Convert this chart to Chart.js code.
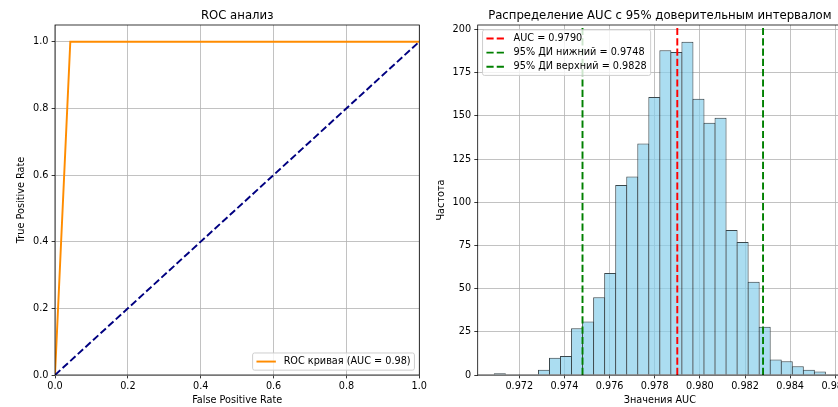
<!DOCTYPE html>
<html><head><meta charset="utf-8">
<script src="https://cdn.jsdelivr.net/npm/chart.js@4.4.1/dist/chart.umd.min.js"></script>
<style>
html,body{margin:0;padding:0;background:#fff;overflow:hidden;width:838px;height:407px;}
#wrap{position:relative;width:838px;height:407px;overflow:hidden;background:#fff;}
.box{position:absolute;top:0;height:407px;}
canvas{display:block;}
</style></head><body>
<div id="wrap">
  <div class="box" style="left:420px;width:430px"><canvas id="c2" width="430" height="407"></canvas></div>
  <div class="box" style="left:0;width:440px"><canvas id="c1" width="440" height="407"></canvas></div>
</div>
<script>
// ---------- DATA ----------
const rocFpr = [0.0, 0.042, 1.0];
const rocTpr = [0.0, 1.0, 1.0];
const diagX = [0.0, 1.0];
const diagY = [0.0, 1.0];
const rocLabel = 'ROC кривая (AUC = 0.98)';

const binEdges = [0.970892, 0.971381, 0.971870, 0.972359, 0.972848, 0.973337, 0.973826, 0.974315,
  0.974804, 0.975293, 0.975782, 0.976271, 0.976760, 0.977249, 0.977738, 0.978227, 0.978716,
  0.979205, 0.979694, 0.980183, 0.980672, 0.981161, 0.981650, 0.982139, 0.982628, 0.983117,
  0.983606, 0.984095, 0.984584, 0.985073, 0.985562];
const binCounts = [1, 0, 0, 0, 3, 10, 11, 27, 31, 45, 59, 110, 115, 134, 161, 188, 187, 193,
  160, 146, 149, 84, 77, 54, 28, 9, 8, 5, 3, 2];
const aucValue = 0.9790;
const ciLower = 0.9748;
const ciUpper = 0.9828;

// ---------- STYLE ----------
const FS = 9.7;
const FAM = "'DejaVu Sans', sans-serif";
Chart.defaults.font.family = FAM;
Chart.defaults.font.size = FS;
Chart.defaults.color = '#000';
const DASH = [7.2, 3.1];
const GRID = {color: '#b0b0b0', lineWidth: 0.78, drawTicks: true, tickLength: 3.4, tickColor: '#000', tickWidth: 0.78};

const spines = {
  id: 'spines',
  afterDraw(chart) {
    const {ctx, chartArea: a} = chart;
    ctx.save();
    ctx.strokeStyle = '#000';
    ctx.lineWidth = 0.78;
    ctx.strokeRect(a.left, a.top, a.right - a.left, a.bottom - a.top);
    ctx.restore();
  }
};

const mplLegend = {
  id: 'mplLegend',
  afterDraw(chart, args, opts) {
    const items = chart.data.datasets.filter(d => d.showInLegend).map(d => ({
      label: d.label, color: d.borderColor, dash: d.borderDash || [], width: d.borderWidth
    }));
    if (!items.length) return;
    const ctx = chart.ctx, ca = chart.chartArea;
    const fs = FS;
    ctx.save();
    ctx.font = fs + 'px ' + FAM;
    const pad = 0.4 * fs, hl = 2 * fs, hp = 0.8 * fs, rowH = 0.97 * fs, sp = 14.2 - 0.97 * fs, bap = 0.5 * fs;
    const tw = Math.max(...items.map(it => ctx.measureText(it.label).width));
    const w = pad + hl + hp + tw + pad;
    const n = items.length;
    const h = 2 * pad + n * rowH + (n - 1) * sp;
    let x0, y0;
    if (opts.loc === 'lower right') { x0 = ca.right - bap - w; y0 = ca.bottom - bap - h; }
    else { x0 = ca.left + bap; y0 = ca.top + bap; }
    const r = 0.2 * fs;
    ctx.beginPath();
    ctx.moveTo(x0 + r, y0);
    ctx.arcTo(x0 + w, y0, x0 + w, y0 + h, r);
    ctx.arcTo(x0 + w, y0 + h, x0, y0 + h, r);
    ctx.arcTo(x0, y0 + h, x0, y0, r);
    ctx.arcTo(x0, y0, x0 + w, y0, r);
    ctx.closePath();
    ctx.fillStyle = 'rgba(255,255,255,0.8)';
    ctx.fill();
    ctx.strokeStyle = '#cccccc';
    ctx.lineWidth = 0.97;
    ctx.stroke();
    items.forEach((it, i) => {
      const cy = y0 + pad + rowH / 2 + i * (rowH + sp);
      ctx.beginPath();
      ctx.setLineDash(it.dash);
      ctx.strokeStyle = it.color;
      ctx.lineWidth = it.width;
      ctx.moveTo(x0 + pad, cy);
      ctx.lineTo(x0 + pad + hl, cy);
      ctx.stroke();
      ctx.setLineDash([]);
      ctx.fillStyle = '#000';
      ctx.textBaseline = 'middle';
      ctx.textAlign = 'left';
      ctx.fillText(it.label, x0 + pad + hl + hp, cy);
    });
    ctx.restore();
  }
};

function titleOpts(text) {
  return {display: true, text, fullSize: false, color: '#000',
    font: {size: 11.7, weight: 'normal', family: FAM, lineHeight: 1.2},
    padding: {top: 8.9, bottom: 2.06}};
}
function fitX(s) { s.height = 32; s.paddingLeft = 0; s.paddingRight = 0; }
function fitY(w) { return s => { s.width = w; s.paddingTop = 0; s.paddingBottom = 0; }; }

// ---------- ROC CHART ----------
new Chart(document.getElementById('c1'), {
  type: 'scatter',
  data: {
    datasets: [
      {label: rocLabel, showInLegend: true, data: rocFpr.map((x, i) => ({x, y: rocTpr[i]})),
       showLine: true, borderColor: '#ff8c00', backgroundColor: '#ff8c00', borderWidth: 1.94,
       pointRadius: 0, order: 2, clip: 0, tension: 0},
      {label: 'diag', showInLegend: false, data: diagX.map((x, i) => ({x, y: diagY[i]})),
       showLine: true, borderColor: '#000080', backgroundColor: '#000080', borderWidth: 1.94,
       borderDash: DASH, pointRadius: 0, order: 1, clip: 0}
    ]
  },
  options: {
    responsive: false, animation: false, events: [],
    layout: {padding: {left: 0, right: 20.7, top: 0, bottom: 0}},
    plugins: {legend: {display: false}, tooltip: {enabled: false},
      title: titleOpts('ROC анализ'), mplLegend: {loc: 'lower right'}},
    scales: {
      x: {type: 'linear', min: 0, max: 1, offset: false,
        ticks: {stepSize: 0.2, includeBounds: false, padding: 2.6, maxRotation: 0, autoSkip: false,
          callback: v => v.toFixed(1)},
        grid: GRID, border: {display: false},
        title: {display: true, text: 'False Positive Rate', padding: {top: 0, bottom: 1.2}},
        afterFit: fitX},
      y: {type: 'linear', min: 0, max: 1.05,
        ticks: {stepSize: 0.2, includeBounds: false, padding: 3.2, callback: v => v.toFixed(1)},
        grid: GRID, border: {display: false},
        title: {display: true, text: 'True Positive Rate', padding: {top: 15.9, bottom: 0}},
        afterFit: fitY(55)}
    }
  },
  plugins: [spines, mplLegend]
});

// ---------- HISTOGRAM CHART ----------
const histPoints = binCounts.map((c, i) => ({x: (binEdges[i] + binEdges[i + 1]) / 2, y: c}));
const yTop = 202.65;
function vline(v, label, color) {
  return {type: 'line', label, showInLegend: true, data: [{x: v, y: 0}, {x: v, y: yTop}],
    borderColor: color, backgroundColor: color, borderWidth: 1.94, borderDash: DASH,
    pointRadius: 0, order: 1, clip: 0};
}
new Chart(document.getElementById('c2'), {
  type: 'bar',
  data: {
    datasets: [
      {type: 'bar', label: 'hist', showInLegend: false, data: histPoints,
       backgroundColor: 'rgba(135,206,235,0.7)', borderColor: '#3a474c', borderWidth: 1,
       barPercentage: 1.09, categoryPercentage: 1, inflateAmount: 0, order: 2},
      vline(aucValue, 'AUC = ' + aucValue.toFixed(4), '#ff0000'),
      vline(ciLower, '95% ДИ нижний = ' + ciLower.toFixed(4), '#008000'),
      vline(ciUpper, '95% ДИ верхний = ' + ciUpper.toFixed(4), '#008000')
    ]
  },
  options: {
    responsive: false, animation: false, events: [],
    layout: {padding: {left: 0, right: 8, top: 0, bottom: 0}},
    plugins: {legend: {display: false}, tooltip: {enabled: false},
      title: titleOpts('Распределение AUC с 95% доверительным интервалом'), mplLegend: {loc: 'upper left'}},
    scales: {
      x: {type: 'linear', min: 0.970156, max: 0.986298, offset: false, z: 1,
        ticks: {stepSize: 0.002, includeBounds: false, padding: 2.6, maxRotation: 0, autoSkip: false,
          callback: v => v.toFixed(3)},
        grid: Object.assign({}, GRID, {offset: false}), border: {display: false},
        title: {display: true, text: 'Значения AUC', padding: {top: 0, bottom: 1.2}},
        afterFit: fitX},
      y: {type: 'linear', min: 0, max: yTop, z: 1,
        ticks: {stepSize: 25, includeBounds: false, padding: 3.2, callback: v => String(Math.round(v))},
        grid: GRID, border: {display: false},
        title: {display: true, text: 'Частота', padding: {top: 15.9, bottom: 0}},
        afterFit: fitY(57.7)}
    }
  },
  plugins: [spines, mplLegend]
});
</script>
</body></html>
